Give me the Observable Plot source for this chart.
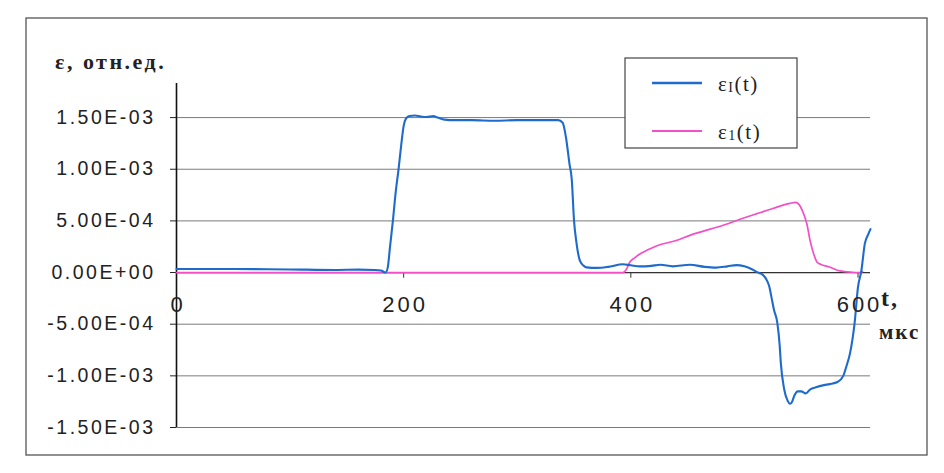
<!DOCTYPE html>
<html>
<head>
<meta charset="utf-8">
<script src="https://cdn.jsdelivr.net/npm/d3@7"></script>
<script src="https://cdn.jsdelivr.net/npm/@observablehq/plot@0.6"></script>
<style>
  html, body { margin: 0; padding: 0; background: #fff; }
</style>
</head>
<body>
<div id="chart"></div>
<script>
// Time axis, µs
const xTicks = [0, 200, 400, 600];
const xTickLabels = ["0", "200", "400", "600"];

// Strain axis, relative units
const yTicks = [-1.5e-3, -1.0e-3, -5.0e-4, 0, 5.0e-4, 1.0e-3, 1.5e-3];
const yTickLabels = ["-1.50E-03", "-1.00E-03", "-5.00E-04", "0.00E+00", "5.00E-04", "1.00E-03", "1.50E-03"];

// Series names shown in the legend: symbol, subscript, argument
const seriesSymbol = ["ε", "ε"];
const seriesSub = ["I", "1"];
const seriesArg = ["(t)", "(t)"];
const seriesColor = ["#1f6bcc", "#f250c8"];

// εI(t): time (µs) and strain (×1e-3)
const tI = [0, 50, 100, 140, 160, 175, 180, 184, 186, 188, 190.5, 193, 195.5, 198, 200, 202, 205, 210, 215, 220, 226, 230, 236, 245, 260, 280, 300, 320, 336, 340, 343, 346, 348, 350, 352, 355, 358, 361, 370, 380, 393, 400, 408, 418, 426, 437, 452, 465, 475, 485, 493, 500, 507, 512, 516, 520, 522, 524, 526, 529, 531, 532, 535, 538, 540, 542, 544, 547, 550, 554, 558, 563, 570, 575, 582, 587, 590, 593, 597, 600, 603, 606, 609, 611];
const epsI = [0.035, 0.035, 0.03, 0.025, 0.028, 0.025, 0.02, 0.0, 0.05, 0.25, 0.5, 0.78, 1.0, 1.25, 1.42, 1.49, 1.515, 1.52, 1.51, 1.505, 1.515, 1.5, 1.48, 1.475, 1.475, 1.47, 1.475, 1.475, 1.475, 1.45, 1.3, 1.05, 0.9, 0.5, 0.3, 0.12, 0.07, 0.05, 0.045, 0.055, 0.08, 0.07, 0.06, 0.065, 0.075, 0.06, 0.075, 0.055, 0.048, 0.06, 0.072, 0.06, 0.03, 0.0, -0.02, -0.08, -0.14, -0.25, -0.36, -0.49, -0.7, -0.87, -1.13, -1.24, -1.27, -1.25, -1.19, -1.15, -1.15, -1.17, -1.13, -1.11, -1.09, -1.08, -1.06, -1.0, -0.9, -0.78, -0.49, -0.14, 0.02, 0.28, 0.37, 0.42];

// ε1(t): time (µs) and strain (×1e-3)
const t1 = [0, 100, 200, 300, 393, 396, 399, 403, 408, 415, 423, 440, 452, 470, 482, 500, 511, 525, 540, 545, 548, 551, 555, 558, 561, 564, 567, 575, 584, 595, 601, 604];
const eps1 = [0, 0, 0, 0, 0, 0.03, 0.1, 0.14, 0.18, 0.22, 0.26, 0.31, 0.36, 0.42, 0.46, 0.53, 0.57, 0.62, 0.67, 0.68, 0.66, 0.6, 0.47, 0.3, 0.18, 0.1, 0.08, 0.054, 0.016, 0.003, 0.0, 0.01];

const seriesI = tI.map((t, i) => ({t, e: epsI[i] * 1e-3}));
const series1 = t1.map((t, i) => ({t, e: eps1[i] * 1e-3}));

const tickLen = -5.5e-5; // downward x tick length, in strain units

const plot = Plot.plot({
  width: 944,
  height: 473,
  marginLeft: 176,
  marginRight: 74,
  marginTop: 83,
  marginBottom: 46,
  style: {
    fontFamily: "'Liberation Sans', Arial, sans-serif",
    fontSize: "19.5px",
    color: "#222",
    background: "#fff",
    overflow: "visible"
  },
  x: {domain: [0, 611], axis: null},
  y: {
    domain: [-1.5e-3, 1.83e-3],
    ticks: yTicks,
    tickFormat: (d) => yTickLabels[yTicks.indexOf(d)],
    tickSize: 6,
    tickPadding: 15,
    label: null
  },
  marks: [
    Plot.ruleY(yTicks, {stroke: "#7a7a7a", strokeWidth: 1}),
    Plot.ruleY([0], {stroke: "#333", strokeWidth: 1.2}),
    Plot.ruleX(xTicks.slice(1), {x: (d) => d, y1: 0, y2: tickLen, stroke: "#333", strokeWidth: 1}),
    Plot.ruleX([0], {stroke: "#111", strokeWidth: 1.6}),
    Plot.line(series1, {x: "t", y: "e", stroke: seriesColor[1], strokeWidth: 1.7, curve: "monotone-x"}),
    Plot.line(seriesI, {x: "t", y: "e", stroke: seriesColor[0], strokeWidth: 2.1, curve: "monotone-x"}),
    Plot.text(xTicks, {x: (d) => d, y: 0, text: (d, i) => xTickLabels[i], dy: 32, fontSize: 22, fill: "#222"})
  ]
});

document.getElementById("chart").appendChild(plot);

const svg = d3.select(plot);

// widen axis lettering
svg.selectAll("[aria-label^='y-axis'] text").style("letter-spacing", "2.5px");
svg.selectAll("[aria-label='text'] text").style("letter-spacing", "3px").attr("dx", "1.5");

const serif = "'Liberation Serif', 'Times New Roman', serif";

// outer border of the chart area
svg.insert("rect", ":first-child")
  .attr("x", 26).attr("y", 18).attr("width", 901).attr("height", 437)
  .attr("fill", "none").attr("stroke", "#555").attr("stroke-width", 1.3);

// axis titles
const note = (x, y, size, txt) => svg.append("text")
  .attr("x", x).attr("y", y)
  .attr("text-anchor", "start")
  .attr("font-family", serif).attr("font-weight", "bold").attr("font-size", size)
  .style("letter-spacing", "2px").attr("fill", "#222")
  .text(txt);
note(55, 69, 22, "ε, отн.ед.").style("letter-spacing", "2.5px");
note(881, 306, 24, "t,");
note(879, 339, 21, "мкс");

// legend
const legend = svg.append("g");
legend.append("rect")
  .attr("x", 625).attr("y", 58).attr("width", 172).attr("height", 90)
  .attr("fill", "#fff").attr("stroke", "#444").attr("stroke-width", 1.2);
seriesSymbol.forEach((sym, i) => {
  const cy = 83 + i * 48;
  legend.append("line")
    .attr("x1", 652).attr("x2", 702).attr("y1", cy).attr("y2", cy)
    .attr("stroke", seriesColor[i]).attr("stroke-width", i === 0 ? 2.4 : 1.8);
  const txt = legend.append("text")
    .attr("x", 718).attr("y", cy + 8)
    .attr("text-anchor", "start")
    .attr("font-family", serif).attr("font-size", 21).attr("fill", "#222")
    .style("letter-spacing", "1.5px");
  txt.append("tspan").text(sym);
  txt.append("tspan").attr("font-size", 14).attr("dy", 1).text(seriesSub[i]);
  txt.append("tspan").attr("dy", -1).text(seriesArg[i]);
});
</script>
</body>
</html>
